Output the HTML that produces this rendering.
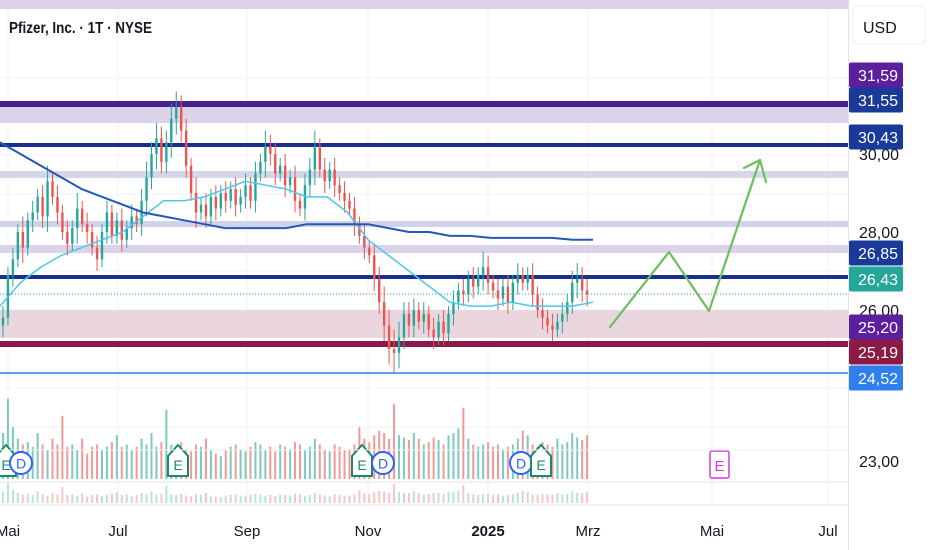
<!DOCTYPE html>
<html><head><meta charset="utf-8"><style>
body{margin:0;background:#fff;width:932px;height:550px;overflow:hidden;font-family:"Liberation Sans",sans-serif}
svg{display:block}
</style></head><body>
<svg id="chart" width="932" height="550" viewBox="0 0 932 550" xmlns="http://www.w3.org/2000/svg">
<rect width="932" height="550" fill="#fff"/>
<g id="grid"></g>
<g id="zones">
<rect x="0" y="0" width="848" height="9" fill="#dcd2ea"/>
<rect x="0" y="107" width="848" height="16" fill="#dcd2ea"/>
<rect x="0" y="101" width="848" height="6" fill="#4a1f8f"/>
<rect x="0" y="143" width="848" height="4" fill="#1a2f8c"/>
<rect x="0" y="171" width="848" height="7" fill="#d6d6ea"/>
<rect x="0" y="221" width="848" height="6" fill="#d0d4ea"/>
<rect x="0" y="245" width="848" height="8" fill="#dcd2ea"/>
<rect x="0" y="275" width="848" height="4" fill="#1a2f8c"/>
<line x1="0" y1="294" x2="848" y2="294" stroke="#26a69a" stroke-width="1" stroke-dasharray="1,2"/>
<rect x="0" y="310" width="848" height="28" fill="#ead6df"/>
<rect x="0" y="341" width="848" height="6" fill="#8b1a4a"/>
<line x1="0" y1="373" x2="848" y2="373" stroke="#2f7ff0" stroke-width="1.5"/>
</g>
<g id="vol"></g>
<g id="candles"></g>
<polyline id="ma50" fill="none" stroke="#4dc7e8" stroke-width="1.5"/>
<polyline id="ma200" fill="none" stroke="#2458b8" stroke-width="2"/>
<g fill="none" stroke="#6dbf5e" stroke-width="2.2" stroke-linecap="round" stroke-linejoin="round">
<polyline points="610,327 669,252 709,311 760,160"/>
<polyline points="744,168 760,160 766,182"/>
</g>
<g id="markers"></g>
<g>
<rect x="710" y="451" width="19" height="27" rx="2" fill="#fff" stroke="#d63ae0" stroke-width="1.5"/>
<text x="719.5" y="471" text-anchor="middle" font-size="15" fill="#d63ae0">E</text>
</g>
<line x1="0" y1="482" x2="848" y2="482" stroke="#e3e3e3"/>
<line x1="0" y1="505" x2="848" y2="505" stroke="#e3e3e3"/>
<line x1="0" y1="450" x2="848" y2="450" stroke="#f2f2f2"/>
<g id="xaxis" font-size="15" fill="#131722"></g>
<text x="9" y="33" font-size="16" font-weight="bold" fill="#131722" textLength="143" lengthAdjust="spacingAndGlyphs">Pfizer, Inc. · 1T · NYSE</text>
<line x1="848.5" y1="0" x2="848.5" y2="550" stroke="#e0e3eb"/>
<rect x="853" y="6" width="72" height="38" rx="5" fill="#fff" stroke="#f0f0f0"/>
<text x="863" y="33" font-size="16" fill="#131722">USD</text>
<g id="yaxis" font-size="16"></g>
</svg>
<script>
const closes=[25.8,26.9,27.3,28.0,27.6,28.3,28.5,28.9,28.4,29.3,28.9,28.5,28.0,27.7,28.1,28.6,28.2,28.0,27.6,27.3,28.0,28.5,27.9,28.3,27.8,28.1,28.4,28.2,28.8,29.4,30.0,30.4,29.8,30.3,30.9,31.2,30.6,29.7,29.0,28.5,28.7,28.4,28.9,28.6,29.0,28.8,29.1,28.7,28.9,29.2,28.8,29.5,29.8,30.2,30.0,29.5,29.7,29.2,29.4,28.8,28.6,29.2,29.6,30.2,29.6,29.3,29.6,29.2,29.0,28.8,28.6,28.2,27.9,27.6,27.4,26.8,26.2,25.6,25.0,24.9,25.3,25.9,25.6,26.0,25.7,25.9,25.5,25.3,25.7,25.4,25.9,26.2,26.5,26.4,26.8,26.6,26.9,27.1,26.7,26.5,26.3,26.6,26.2,26.7,26.9,26.7,26.9,26.4,26.0,25.8,25.6,25.5,25.7,25.9,26.2,26.7,26.8,26.5,26.4];
const wicks=[0.3,0.2,0.3,0.2,0.4,0.2,0.3,0.2,0.3,0.4,0.2,0.3,0.2,0.3,0.2,0.4,0.2,0.3,0.2,0.3,0.2,0.3,0.2,0.2,0.3,0.2,0.3,0.2,0.3,0.4,0.3,0.4,0.3,0.3,0.4,0.4,0.3,0.3,0.2,0.4,0.2,0.3,0.2,0.3,0.2,0.3,0.2,0.3,0.2,0.3,0.2,0.3,0.2,0.4,0.3,0.3,0.2,0.3,0.2,0.3,0.2,0.3,0.3,0.4,0.2,0.3,0.2,0.3,0.2,0.3,0.2,0.3,0.2,0.3,0.2,0.3,0.3,0.4,0.4,0.5,0.4,0.3,0.3,0.3,0.2,0.3,0.2,0.3,0.2,0.3,0.2,0.3,0.2,0.3,0.2,0.3,0.2,0.4,0.3,0.2,0.3,0.2,0.3,0.2,0.3,0.2,0.2,0.3,0.2,0.3,0.2,0.3,0.2,0.3,0.2,0.3,0.4,0.3,0.3];
const volumes=[40,70,45,35,30,32,28,40,30,25,35,30,55,28,30,25,35,22,28,30,25,28,32,38,28,30,25,28,35,30,40,28,32,60,30,28,32,26,24,30,28,35,25,22,20,25,28,30,26,24,28,32,30,25,28,24,30,28,26,32,30,25,28,35,30,26,24,30,28,25,26,30,45,35,32,38,42,40,35,65,38,36,34,40,35,30,32,36,34,30,38,40,44,62,35,30,28,30,32,28,30,26,28,30,35,42,38,30,28,32,30,28,35,30,32,40,36,34,38];
const ma50=[26.1,26.7,27.1,27.4,27.6,27.8,28.0,28.4,28.8,28.8,28.9,29.1,29.3,29.2,29.1,28.9,28.9,28.5,27.8,27.4,27.0,26.6,26.2,26.1,26.1,26.2,26.1,26.1,26.1,26.2];
const ma200=[30.3,30.0,29.7,29.4,29.1,28.9,28.7,28.5,28.4,28.3,28.2,28.1,28.1,28.1,28.1,28.2,28.2,28.2,28.2,28.1,28.0,28.0,27.9,27.9,27.85,27.85,27.85,27.85,27.8,27.8];
const xTickLabels=["Mai","Jul","Sep","Nov","2025","Mrz","Mai","Jul"];
const xTickPos=[8,118,247,368,488,588,712,828];
const yTicks=[30,28,26,23];
const priceTags=[["31,59",75,"#5b1fa0"],["31,55",100,"#1a3a9a"],["30,43",137,"#1a3a9a"],["26,85",253,"#1a3a9a"],["26,43",279,"#26a69a"],["25,20",327,"#5b1fa0"],["25,19",352,"#8b1a45"],["24,52",378,"#2f7ff0"]];
const events=[["E",6],["D",21],["E",178],["E",362],["D",383],["D",521],["E",541]];
const NS="http://www.w3.org/2000/svg";
const py=p=>232-(p-28)*39;
const cx=i=>3+i*4.95;
const vScale=1.15;
function mk(tag,attrs,parent){const e=document.createElementNS(NS,tag);for(const k in attrs)e.setAttribute(k,attrs[k]);parent.appendChild(e);return e;}
const grid=document.getElementById('grid');
xTickPos.forEach(x=>{mk('line',{x1:x,y1:0,x2:x,y2:505,stroke:'#f0f2f6'},grid);});
[0,9,78,117,155,194,271,310,388,427].forEach(y=>{mk('line',{x1:0,y1:y,x2:848,y2:y,stroke:'#f2f3f6'},grid);});
const cg=document.getElementById('candles'),vg=document.getElementById('vol');
closes.forEach((c,i)=>{
 const o=i?closes[i-1]:c-0.2, up=c>=o, col=up?'#26a69a':'#ef5350', x=cx(i);
 const hi=Math.max(o,c)+wicks[i], lo=Math.min(o,c)-wicks[i];
 const w=mk('line',{x1:x,y1:py(hi),x2:x,y2:py(lo),stroke:col,'stroke-width':1},cg);
 
 
 const b=mk('rect',{x:x-1.2,y:py(Math.max(o,c)),width:2.4,height:Math.max(1,Math.abs(c-o)*39),fill:col},cg);
 
 
 const v=volumes[i]*vScale;
 const vb=mk('rect',{x:x-1,y:479-v,width:2,height:v,fill:up?'#7cc9bf':'#f09a98'},vg);
 
 
 const sb=mk('rect',{x:x-1,y:503-v/4,width:2,height:v/4,fill:up?'#b9e2dc':'#f6c6c5'},vg);
 
 
});
const mx=i=>i*(593/(ma50.length-1));
document.getElementById('ma50').setAttribute('points',ma50.map((v,i)=>mx(i)+','+py(v)).join(' '));
document.getElementById('ma200').setAttribute('points',ma200.map((v,i)=>mx(i)+','+py(v)).join(' '));
const xa=document.getElementById('xaxis');
xTickLabels.forEach((t,i)=>{const e=mk('text',{x:xTickPos[i],y:536,'text-anchor':'middle','font-weight':t==='2025'?'bold':'normal'},xa);e.textContent=t;
 
 });
const ya=document.getElementById('yaxis');
yTicks.forEach(t=>{const y=t===23?467:py(t)+6;const e=mk('text',{x:859,y:y,fill:'#131722'},ya);e.textContent=t.toFixed(2).replace('.',',');
 
 });
priceTags.forEach(([t,y,c])=>{const r=mk('rect',{x:849,y:y-12.5,width:54,height:25,rx:2,fill:c},ya);
 
 
 const e=mk('text',{x:858,y:y+6,fill:'#fff'},ya);e.textContent=t;});
const mg=document.getElementById('markers');
events.forEach(([t,x])=>{const g=mk('g',{},mg);
 
 
 if(t==='E'){mk('path',{d:`M${x-10},${476} L${x-10},${456} L${x},${445} L${x+10},${456} L${x+10},${476} Z`,fill:'#fff',stroke:'#1b8a6b','stroke-width':2},g);
  const e=mk('text',{x:x,y:470,'text-anchor':'middle','font-size':14,fill:'#1b8a6b'},g);e.textContent='E';}
 else{mk('circle',{cx:x,cy:463,r:11,fill:'#fff',stroke:'#2962ff','stroke-width':2},g);
  const e=mk('text',{x:x,y:468.5,'text-anchor':'middle','font-size':14,fill:'#2962ff'},g);e.textContent='D';}
});
</script>
</body></html>
